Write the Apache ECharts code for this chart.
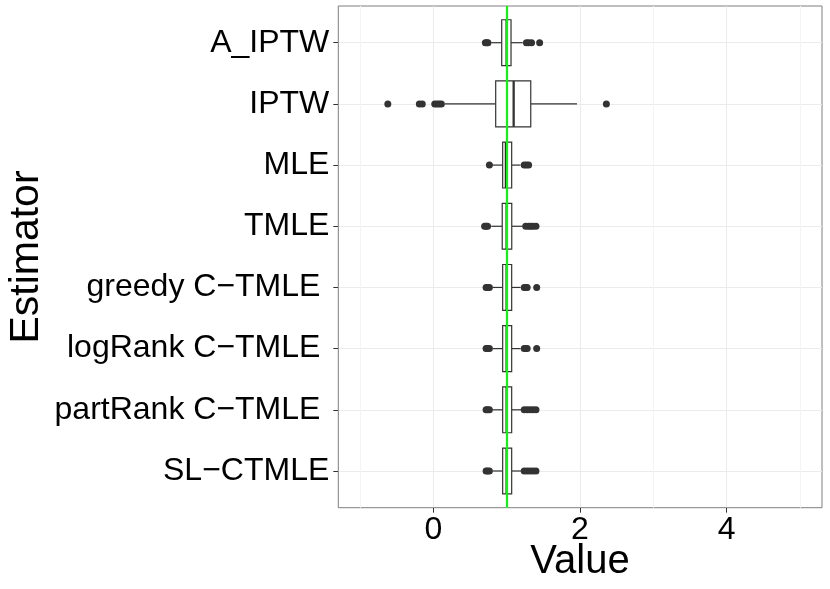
<!DOCTYPE html>
<html>
<head>
<meta charset="utf-8">
<script src="https://cdn.jsdelivr.net/npm/echarts@6/dist/echarts.min.js"></script>
<style>html,body{margin:0;padding:0;background:#fff;}#c{width:830px;height:589px;}</style>
</head>
<body>
<div id="c"></div>
<script>
// ---- data ----
const categories = ['A_IPTW', 'IPTW', 'MLE', 'TMLE', 'greedy C\u2212TMLE ', 'logRank C\u2212TMLE ', 'partRank C\u2212TMLE ', 'SL\u2212CTMLE'];
// [lowWhisker, Q1, median, Q3, highWhisker]
const boxStats = [
  [0.79, 0.933, 1.00, 1.060, 1.22],
  [0.155, 0.851, 1.096, 1.329, 1.96],
  [0.80, 0.946, 0.99, 1.069, 1.19],
  [0.79, 0.940, 1.00, 1.070, 1.22],
  [0.81, 0.946, 1.00, 1.069, 1.19],
  [0.81, 0.946, 1.00, 1.069, 1.19],
  [0.81, 0.946, 1.00, 1.069, 1.20],
  [0.81, 0.946, 1.00, 1.069, 1.20]
];
const outliers = [
  [0.71, 0.73, 0.745, 1.27, 1.30, 1.34, 1.45],
  [-0.62, -0.19, -0.15, 0.02, 0.05, 0.08, 0.11, 2.36],
  [0.765, 1.24, 1.27, 1.30],
  [0.70, 0.72, 0.74, 1.26, 1.30, 1.33, 1.36, 1.40],
  [0.72, 0.74, 0.765, 1.24, 1.26, 1.28, 1.41],
  [0.72, 0.74, 0.765, 1.24, 1.26, 1.28, 1.41],
  [0.72, 0.74, 0.765, 1.24, 1.28, 1.32, 1.36, 1.40],
  [0.72, 0.74, 0.765, 1.24, 1.28, 1.32, 1.36, 1.40]
];
const referenceValue = 1;
const xMajorTicks = [0, 2, 4];
const xMinorTicks = [-1, 1, 3, 5];
const xTitle = 'Value';
const yTitle = 'Estimator';

// ---- build series data ----
const boxData = boxStats.map((s, i) => [i].concat(s));
const outlierData = [];
outliers.forEach((arr, i) => arr.forEach(v => outlierData.push([v, i])));
const catIdx = categories.map((c, i) => i);

const FONT = 'Liberation Sans';
const chart = echarts.init(document.getElementById('c'));
chart.setOption({
  animation: false,
  backgroundColor: '#ffffff',
  grid: {
    left: 338.3, right: 8, top: 6, bottom: 81.3,
    outerBoundsMode: 'none', containLabel: false,
    show: true, borderColor: '#7f7f7f', borderWidth: 1, backgroundColor: '#ffffff'
  },
  xAxis: [{
    type: 'value', min: -1.295, max: 5.30, position: 'bottom',
    axisLine: { show: false, onZero: false },
    axisTick: { show: true, length: 5, customValues: xMajorTicks, lineStyle: { color: '#333', width: 1 } },
    axisLabel: { customValues: xMajorTicks, fontFamily: FONT, fontSize: 32, color: '#000', margin: 6 },
    splitLine: { show: true, lineStyle: { color: '#ebebeb', width: 1 } }
  }, {
    type: 'value', min: -1.295, max: 5.30, position: 'bottom',
    axisLine: { show: false, onZero: false },
    axisTick: { show: false, customValues: xMinorTicks },
    axisLabel: { show: false, customValues: xMinorTicks },
    splitLine: { show: true, lineStyle: { color: '#f4f4f4', width: 1 } }
  }],
  yAxis: {
    type: 'value', min: -0.6, max: 7.6, inverse: true, position: 'left',
    axisLine: { show: false, onZero: false },
    axisTick: { show: true, length: 5, customValues: catIdx, lineStyle: { color: '#333', width: 1 } },
    axisLabel: {
      customValues: catIdx, fontFamily: FONT, fontSize: 32, color: '#000', margin: 9,
      formatter: v => categories[Math.round(v)]
    },
    splitLine: { show: true, lineStyle: { color: '#ebebeb', width: 1 } }
  },
  graphic: [{
    type: 'text', x: 580, y: 562, z: 10,
    style: { text: xTitle, font: '40px "Liberation Sans"', fill: '#000', align: 'center', verticalAlign: 'middle' }
  }, {
    type: 'text', x: 27, y: 257, rotation: Math.PI / 2, z: 10,
    style: { text: yTitle, font: '41px "Liberation Sans"', fill: '#000', align: 'center', verticalAlign: 'middle' }
  }],
  series: [{
    type: 'custom',
    z: 2,
    data: boxData,
    encode: { x: [1, 2, 3, 4, 5], y: 0 },
    renderItem: function (params, api) {
      const i = api.value(0);
      const lo = api.coord([api.value(1), i]);
      const q1 = api.coord([api.value(2), i]);
      const md = api.coord([api.value(3), i]);
      const q3 = api.coord([api.value(4), i]);
      const hi = api.coord([api.value(5), i]);
      const h = Math.abs(api.size([0, 1])[1]) * 0.75;
      const y = q1[1];
      const st = { stroke: '#333333', lineWidth: 1.2, fill: null };
      return {
        type: 'group',
        children: [
          { type: 'line', shape: { x1: lo[0], y1: y, x2: q1[0], y2: y }, style: st },
          { type: 'line', shape: { x1: q3[0], y1: y, x2: hi[0], y2: y }, style: st },
          { type: 'rect', shape: { x: q1[0], y: y - h / 2, width: q3[0] - q1[0], height: h },
            style: { fill: '#ffffff', stroke: '#333333', lineWidth: 1.2 } },
          { type: 'line', shape: { x1: md[0], y1: y - h / 2, x2: md[0], y2: y + h / 2 },
            style: { stroke: '#333333', lineWidth: 2.3 } }
        ]
      };
    }
  }, {
    type: 'scatter',
    z: 3,
    data: outlierData,
    symbol: 'circle',
    symbolSize: 7,
    itemStyle: { color: '#333333', opacity: 1 },
    silent: true
  }, {
    type: 'scatter',
    z: 5,
    data: [],
    markLine: {
      silent: true, symbol: 'none', label: { show: false },
      lineStyle: { color: '#00ff00', width: 2, type: 'solid' },
      data: [{ xAxis: referenceValue }]
    }
  }]
});
</script>
</body>
</html>
